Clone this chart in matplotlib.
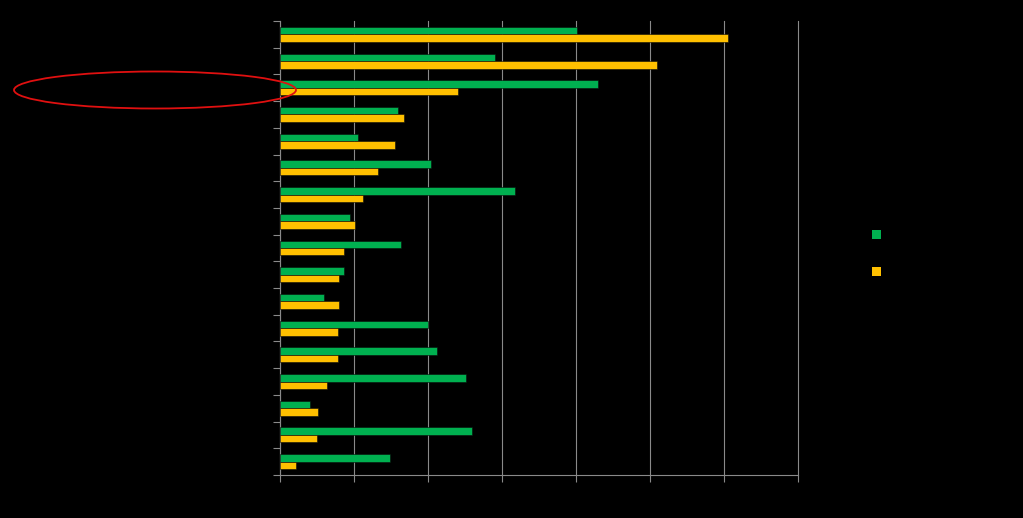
import numpy as np
import matplotlib
matplotlib.use('Agg')
from matplotlib import pyplot as plt
from matplotlib.patches import Ellipse, Patch

# --- data (labels are black on black in the original)
categories = [str(i) for i in range(1, 18)]
series_names = ['Series 1', 'Series 2']
green_vals = [20.1, 14.5, 21.5, 8.0, 5.3, 10.2, 15.9, 4.7, 8.2, 4.3, 3.0, 10.0, 10.6, 12.6, 2.0, 13.0, 7.4]
yellow_vals = [30.3, 25.5, 12.0, 8.4, 7.8, 6.6, 5.6, 5.1, 4.3, 4.0, 4.0, 3.9, 3.9, 3.2, 2.6, 2.5, 1.1]
x_ticks = [0, 5, 10, 15, 20, 25, 30, 35]

green = '#00B050'
yellow = '#FFC000'
grid_col = '#8a8a8a'

fig = plt.figure(figsize=(10.23, 5.18), dpi=100, facecolor='black')
ax = fig.add_axes([280 / 1023, 1 - 475 / 518, 518 / 1023, 454 / 518], facecolor='black')

y = np.arange(len(categories))
h = 0.28
ax.barh(y - h / 2, green_vals, height=h, color=green, edgecolor='#0a0a0a', linewidth=0.4, zorder=3)
ax.barh(y + h / 2, yellow_vals, height=h, color=yellow, edgecolor='#0a0a0a', linewidth=0.4, zorder=3)

ax.set_ylim(len(categories) - 0.5, -0.5)
ax.set_xlim(0, 35)
ax.set_xticks(x_ticks)
ax.set_xticklabels([str(t) for t in x_ticks], color='black')
ax.set_yticks(np.arange(-0.5, len(categories), 1.0))
ax.set_yticklabels([])
ax.set_yticks(y, minor=True)
ax.set_yticklabels(categories, minor=True, color='black')
ax.tick_params(axis='y', which='minor', length=0)
ax.tick_params(axis='y', which='major', length=5, color=grid_col, width=0.8)
ax.tick_params(axis='x', length=5, color=grid_col, width=0.8)

ax.grid(axis='x', color=grid_col, linewidth=0.8, zorder=0)
for gl in ax.get_xgridlines():
    gl.set_clip_on(False)
for side in ['top', 'right']:
    ax.spines[side].set_visible(False)
for side in ['left', 'bottom']:
    ax.spines[side].set_color(grid_col)
    ax.spines[side].set_linewidth(0.8)

handles = [Patch(facecolor=green, edgecolor='none'), Patch(facecolor=yellow, edgecolor='none')]
leg = fig.legend(handles, series_names, loc='center left', bbox_to_anchor=(861 / 1023, 1 - 254 / 518),
                 frameon=False, labelcolor='black', handlelength=0.7, handleheight=0.7,
                 labelspacing=1.9, fontsize=9)

# red ellipse highlighting the third category
ell = Ellipse((155 / 1023, 1 - 90 / 518), 282 / 1023, 37 / 518, transform=fig.transFigure,
              fill=False, edgecolor='#e01010', linewidth=1.3)
fig.patches.append(ell)

fig.savefig('out.png', dpi=100, facecolor='black')
